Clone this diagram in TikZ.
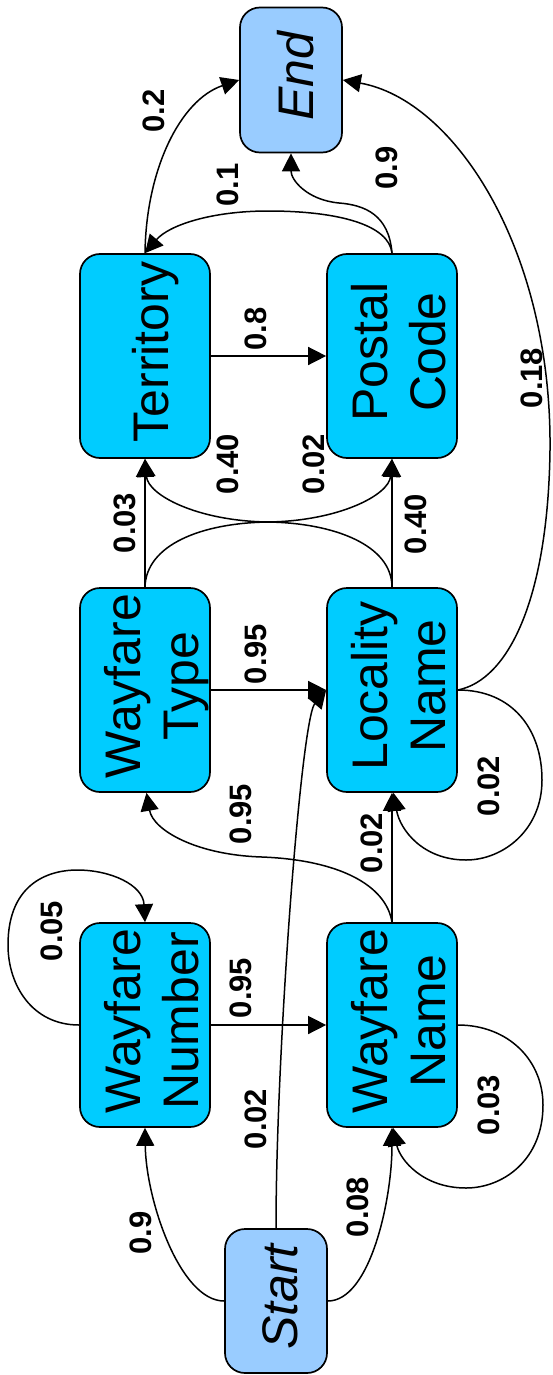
\documentclass[tikz,border=0pt]{standalone}
\usepackage{fontspec}
\setmainfont{Liberation Sans}
\usepackage{graphicx}
\usetikzlibrary{arrows.meta}
\definecolor{boxblue}{HTML}{00CCFF}
\definecolor{termblue}{HTML}{99CCFF}
\newcommand\vtxt[2]{\rotatebox{90}{\raisebox{#1}[\height][\depth]{\kern8pt #2}}}
\newcommand\twoline[2]{\begin{tabular}{@{}c@{}}#1\\#2\end{tabular}}
\begin{document}
\begin{tikzpicture}[x=1pt,y=-1pt,
 state/.style={draw, line width=1.7pt, rounded corners=20pt, fill=boxblue, minimum width=130pt, minimum height=204pt, inner sep=0pt, font=\fontsize{50}{58}\selectfont},
 term/.style={state, fill=termblue, minimum width=102pt, minimum height=145pt, font=\itshape\fontsize{50}{58}\selectfont},
 lab/.style={rotate=90, inner sep=0pt, font=\bfseries\fontsize{31}{31}\selectfont},
 edge/.style={line width=1.5pt, -{Triangle[length=18pt,width=18pt]}}]
\useasboundingbox (0,0) rectangle (553,1375);
% nodes
\node[term] (fin) at (291,80) {\vtxt{-5pt}{End}};
\node[state] (ter) at (145,356) {\vtxt{-10.5pt}{Territory}};
\node[state] (pc) at (392,356) {\vtxt{-12.5pt}{\twoline{Postal}{Code}}};
\node[state] (wt) at (145,690) {\vtxt{-12.5pt}{\twoline{Wayfare}{Type}}};
\node[state] (ln) at (392,690) {\vtxt{-12.5pt}{\twoline{Locality}{Name}}};
\node[state] (wn) at (145,1025) {\vtxt{-12.5pt}{\twoline{Wayfare}{Number}}};
\node[state] (wna) at (392,1025) {\vtxt{-12.5pt}{\twoline{Wayfare}{Name}}};
\node[term, minimum height=144pt] (beg) at (276,1301) {\vtxt{-4.5pt}{Start}};
% edges
\draw[edge] (beg.west) .. controls (180,1301) and (146,1200) .. (wn.south);
\draw[edge] (beg.east) .. controls (370,1301) and (392,1200) .. (wna.south);
\draw[edge] (beg.north) .. controls (276,1050) and (301,720) .. (ln.west);
\draw[edge] (wn.east) -- (wna.west);
\draw[edge] (wn.west) .. controls (32,1025) and (8,985) .. (8,945) .. controls (8,880) and (53,870) .. (77,870) .. controls (111,870) and (143,885) .. (wn.north);
\draw[edge] (wna.east) .. controls (508,1025) and (543,1060) .. (543,1105) .. controls (543,1160) and (503,1188) .. (466,1188) .. controls (423,1188) and (400,1160) .. ([xshift=1pt]wna.south);
\draw[edge] (wna.north) -- (ln.south);
\draw[edge] (wna.north) .. controls (386,885) and (339,860) .. (262,857) .. controls (196,855) and (153,830) .. ([xshift=1.5pt]wt.south);
\draw[edge] (wt.east) -- (ln.west);
\draw[edge] (ln.east) .. controls (513,690) and (542,730) .. (542,780) .. controls (542,830) and (503,860) .. (466,860) .. controls (423,860) and (400,830) .. ([xshift=1.5pt]ln.south);
\draw[edge] (ln.east) .. controls (508,680) and (548,600) .. (550,450) .. controls (552,250) and (455,100) .. (fin.east);
\draw[edge] (wt.north) -- (ter.south);
\draw[edge] (ln.north) -- (pc.south);
\draw[edge] (wt.north) .. controls (146,545) and (201,523) .. (268,522) .. controls (339,521) and (389,495) .. (pc.south);
\draw[edge] (ln.north) .. controls (392,545) and (334,523) .. (268,522) .. controls (197,521) and (148,495) .. (ter.south);
\draw[edge] (ter.east) -- (pc.west);
\draw[edge] (ter.north) .. controls (146,170) and (180,100) .. (fin.west);
\draw[edge] (pc.north) .. controls (389,225) and (339,211) .. (268,211) .. controls (212,211) and (169,225) .. (ter.north);
\draw[edge] (pc.north) .. controls (389,215) and (365,205) .. (339,203) .. controls (307,200) and (291,180) .. (fin.south);
% labels
\node[lab] (l1) at (153.4,111) {0.2};
\node[lab] (l2) at (227.5,185) {0.1};
\node[lab] (l3) at (387,168) {0.9};
\node[lab] (l4) at (256,329) {0.8};
\node[lab] (l5) at (532,378) {0.18};
\node[lab] (l6) at (227.5,464) {0.40};
\node[lab] (l7) at (314,464) {0.02};
\node[lab] (l8) at (125,523) {0.03};
\node[lab] (l9) at (416,524) {0.40};
\node[lab] (l10) at (256,654) {0.95};
\node[lab] (l11) at (489,786) {0.02};
\node[lab] (l12) at (241,814) {0.95};
\node[lab] (l13) at (372,843) {0.02};
\node[lab] (l14) at (52,931) {0.05};
\node[lab] (l15) at (241,988) {0.95};
\node[lab] (l16) at (489,1105) {0.03};
\node[lab] (l17) at (256,1119) {0.02};
\node[lab] (l18) at (141,1233) {0.9};
\node[lab] (l19) at (357.6,1207) {0.08};
\end{tikzpicture}
\end{document}
